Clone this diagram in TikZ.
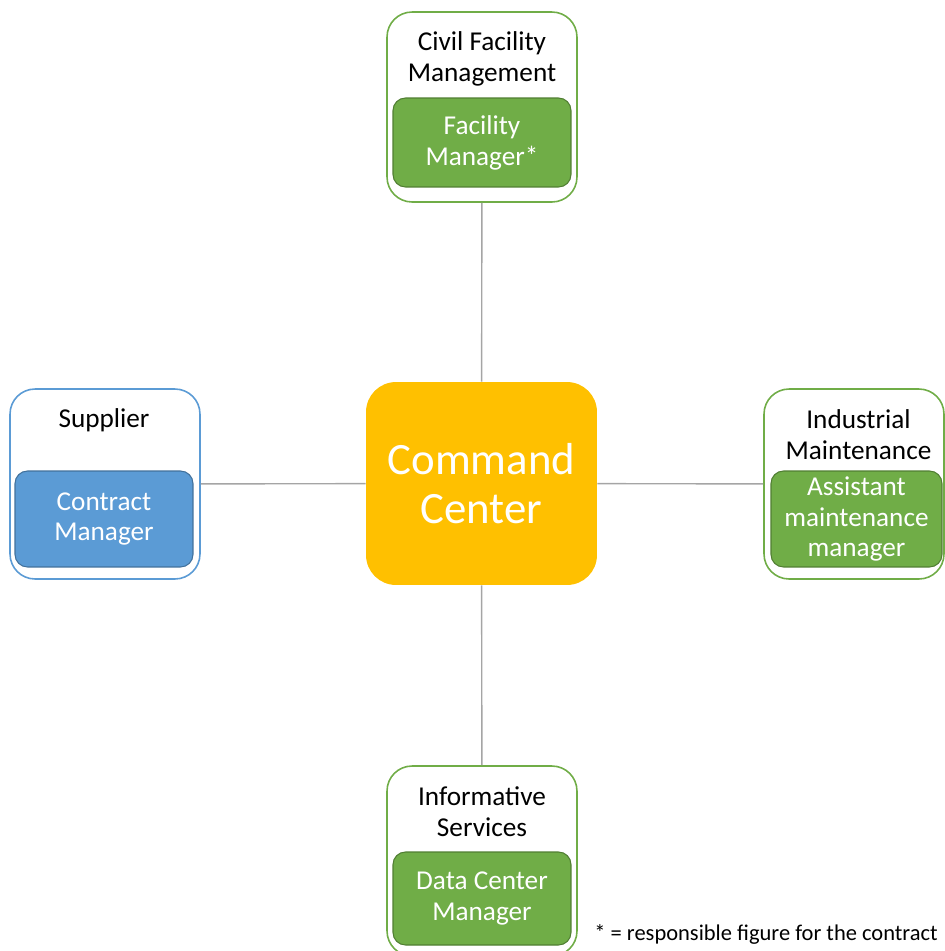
\documentclass[tikz,border=0pt]{standalone}
\usepackage{fontspec}
\setmainfont{Carlito}
\usepackage{xcolor}
\usepackage{tikz}
\usetikzlibrary{positioning}
\definecolor{deptgreen}{HTML}{70AD47}
\definecolor{deptgreendark}{HTML}{507E32}
\definecolor{deptblue}{HTML}{5B9BD5}
\definecolor{deptbluedark}{HTML}{41719C}
\definecolor{ccorange}{HTML}{FFC000}
\definecolor{linkgray}{HTML}{A5A5A5}
\tikzstyle{deptbox} = [
    rectangle,
    draw=deptgreen,
    line width=0.9pt,
    fill=white,
    rounded corners=0.5cm,
    minimum width=3.8cm,
    minimum height=3.8cm
]
\tikzstyle{depttitle} = [
    align=center,
    font=\fontsize{15.5}{17.6}\selectfont,
    inner sep=0pt
]
\tikzstyle{role} = [
    rectangle,
    draw=deptgreendark,
    line width=0.6pt,
    fill=deptgreen,
    text=white,
    align=center,
    font=\fontsize{15.5}{17.6}\selectfont,
    rounded corners=0.25cm,
    minimum width=3.56cm,
    minimum height=1.78cm,
    inner sep=0pt
]
\tikzstyle{link} = [draw=linkgray, line width=0.8pt]

\begin{document}
\begin{tikzpicture}[x=0.02cm, y=-0.02cm]
    \useasboundingbox (0,0) rectangle (945,951);
    % Zentrale
    \node (cc) [rectangle, fill=ccorange, rounded corners=0.6cm, minimum width=4.62cm, minimum height=4.06cm,
        text=white, align=center, font=\fontsize{25.5}{27.8}\selectfont] at (481.5,483.5) {Command\\Center};
    % Abteilungen
    \node (civil) [deptbox] at (482,107) {};
    \node (industrial) [deptbox, minimum width=3.6cm] at (854,484) {};
    \node (supplier) [deptbox, draw=deptblue] at (105,484) {};
    \node (informative) [deptbox] at (482,861) {};
    % Titel
    \node (civiltitle) [depttitle] at (482,59) {Civil Facility\\Management};
    \node (industrialtitle) [depttitle] at (858.5,435) {Industrial\\Maintenance};
    \node (suppliertitle) [depttitle] at (104,420) {Supplier};
    \node (informativetitle) [depttitle] at (482,812) {Informative\\Services};
    % Rollen
    \node (facilitymgr) [role] at (482,142.5) {Facility\\Manager*};
    \node (assistantmgr) [role, minimum width=3.42cm, minimum height=1.92cm] at (856.5,519) {Assistant\\maintenance\\manager};
    \node (contractmgr) [role, draw=deptbluedark, fill=deptblue, minimum height=1.92cm] at (104,519) {Contract\\Manager};
    \node (datacentermgr) [role, minimum height=1.86cm] at (482,898.5) {Data Center\\Manager};
    % Verbindungen
    \draw [link] (cc) -- (civil);
    \draw [link] (cc) -- (industrial);
    \draw [link] (cc) -- (supplier);
    \draw [link] (cc) -- (informative);
    % Fussnote
    \node (note) [anchor=east, inner sep=0pt, font=\fontsize{12.8}{15}\selectfont] at (938,934) {* = responsible figure for the contract};
\end{tikzpicture}
\end{document}
